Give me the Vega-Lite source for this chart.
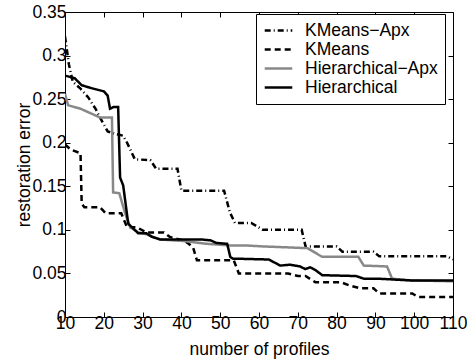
{
  "$schema": "https://vega.github.io/schema/vega-lite/v6.json",
  "width": 388,
  "height": 305,
  "autosize": "none",
  "padding": {"left": 65, "top": 12, "right": 14, "bottom": 43},
  "config": {
    "font": "Liberation Sans",
    "view": {"stroke": "black", "strokeWidth": 1},
    "axis": {"grid": false, "domainColor": "black", "tickColor": "black", "labelColor": "black", "titleColor": "black", "labelFontSize": 17.5, "titleFontSize": 17.5, "titleFontWeight": "normal", "tickSize": -5, "labelPadding": 4, "labelOverlap": false, "labelBound": false, "labelFlush": false},
    "legend": {"orient": "none", "legendX": 191, "legendY": 2, "strokeColor": "black", "fillColor": "white", "padding": 7, "labelFontSize": 17.5, "labelColor": "black", "symbolType": "stroke", "symbolSize": 760, "symbolStrokeWidth": 2.5, "rowPadding": 0, "clipHeight": 19, "labelOffset": 11, "cornerRadius": 0}
  },
  "data": {"values": [
    {"s":"KMeans−Apx","x":10,"y":0.322},{"s":"KMeans−Apx","x":11,"y":0.29},{"s":"KMeans−Apx","x":12,"y":0.27},{"s":"KMeans−Apx","x":14,"y":0.262},{"s":"KMeans−Apx","x":16,"y":0.252},{"s":"KMeans−Apx","x":18,"y":0.238},{"s":"KMeans−Apx","x":19,"y":0.229},{"s":"KMeans−Apx","x":21,"y":0.213},{"s":"KMeans−Apx","x":23,"y":0.21},{"s":"KMeans−Apx","x":25,"y":0.208},{"s":"KMeans−Apx","x":26,"y":0.2},{"s":"KMeans−Apx","x":28,"y":0.181},{"s":"KMeans−Apx","x":32,"y":0.18},{"s":"KMeans−Apx","x":33.5,"y":0.17},{"s":"KMeans−Apx","x":39,"y":0.17},{"s":"KMeans−Apx","x":40,"y":0.145},{"s":"KMeans−Apx","x":51,"y":0.145},{"s":"KMeans−Apx","x":52.5,"y":0.12},{"s":"KMeans−Apx","x":53.8,"y":0.108},{"s":"KMeans−Apx","x":58,"y":0.108},{"s":"KMeans−Apx","x":61,"y":0.1},{"s":"KMeans−Apx","x":71,"y":0.1},{"s":"KMeans−Apx","x":72,"y":0.081},{"s":"KMeans−Apx","x":80,"y":0.081},{"s":"KMeans−Apx","x":81.5,"y":0.075},{"s":"KMeans−Apx","x":89.5,"y":0.075},{"s":"KMeans−Apx","x":91,"y":0.0696},{"s":"KMeans−Apx","x":108.5,"y":0.0696},{"s":"KMeans−Apx","x":110,"y":0.066},
    {"s":"KMeans","x":10,"y":0.198},{"s":"KMeans","x":11.5,"y":0.192},{"s":"KMeans","x":14,"y":0.188},{"s":"KMeans","x":14.3,"y":0.13},{"s":"KMeans","x":15,"y":0.126},{"s":"KMeans","x":19,"y":0.126},{"s":"KMeans","x":20.5,"y":0.119},{"s":"KMeans","x":24.5,"y":0.119},{"s":"KMeans","x":26,"y":0.103},{"s":"KMeans","x":28.5,"y":0.103},{"s":"KMeans","x":31,"y":0.097},{"s":"KMeans","x":35.5,"y":0.097},{"s":"KMeans","x":37,"y":0.092},{"s":"KMeans","x":41,"y":0.087},{"s":"KMeans","x":43,"y":0.08},{"s":"KMeans","x":44,"y":0.065},{"s":"KMeans","x":53.5,"y":0.065},{"s":"KMeans","x":54.8,"y":0.05},{"s":"KMeans","x":67.5,"y":0.05},{"s":"KMeans","x":70,"y":0.047},{"s":"KMeans","x":72,"y":0.047},{"s":"KMeans","x":74.5,"y":0.04},{"s":"KMeans","x":81,"y":0.04},{"s":"KMeans","x":83.5,"y":0.036},{"s":"KMeans","x":86,"y":0.033},{"s":"KMeans","x":89.5,"y":0.033},{"s":"KMeans","x":91,"y":0.027},{"s":"KMeans","x":99.5,"y":0.027},{"s":"KMeans","x":101,"y":0.023},{"s":"KMeans","x":110,"y":0.023},
    {"s":"Hierarchical−Apx","x":10,"y":0.256},{"s":"Hierarchical−Apx","x":10.8,"y":0.243},{"s":"Hierarchical−Apx","x":14,"y":0.239},{"s":"Hierarchical−Apx","x":17,"y":0.233},{"s":"Hierarchical−Apx","x":19,"y":0.229},{"s":"Hierarchical−Apx","x":22.1,"y":0.229},{"s":"Hierarchical−Apx","x":22.4,"y":0.143},{"s":"Hierarchical−Apx","x":24,"y":0.142},{"s":"Hierarchical−Apx","x":25.5,"y":0.119},{"s":"Hierarchical−Apx","x":26.8,"y":0.103},{"s":"Hierarchical−Apx","x":29,"y":0.097},{"s":"Hierarchical−Apx","x":31,"y":0.095},{"s":"Hierarchical−Apx","x":34.5,"y":0.089},{"s":"Hierarchical−Apx","x":41,"y":0.087},{"s":"Hierarchical−Apx","x":46.5,"y":0.084},{"s":"Hierarchical−Apx","x":53,"y":0.082},{"s":"Hierarchical−Apx","x":57,"y":0.082},{"s":"Hierarchical−Apx","x":61,"y":0.081},{"s":"Hierarchical−Apx","x":72.5,"y":0.079},{"s":"Hierarchical−Apx","x":74,"y":0.075},{"s":"Hierarchical−Apx","x":76.3,"y":0.069},{"s":"Hierarchical−Apx","x":85.6,"y":0.069},{"s":"Hierarchical−Apx","x":87,"y":0.059},{"s":"Hierarchical−Apx","x":93,"y":0.058},{"s":"Hierarchical−Apx","x":94.3,"y":0.044},{"s":"Hierarchical−Apx","x":99,"y":0.042},{"s":"Hierarchical−Apx","x":110,"y":0.041},
    {"s":"Hierarchical","x":10,"y":0.277},{"s":"Hierarchical","x":12.5,"y":0.274},{"s":"Hierarchical","x":14.3,"y":0.266},{"s":"Hierarchical","x":16.5,"y":0.263},{"s":"Hierarchical","x":20,"y":0.259},{"s":"Hierarchical","x":21,"y":0.254},{"s":"Hierarchical","x":21.6,"y":0.239},{"s":"Hierarchical","x":22.5,"y":0.241},{"s":"Hierarchical","x":23.7,"y":0.241},{"s":"Hierarchical","x":24.2,"y":0.16},{"s":"Hierarchical","x":25,"y":0.151},{"s":"Hierarchical","x":26.3,"y":0.107},{"s":"Hierarchical","x":28.9,"y":0.096},{"s":"Hierarchical","x":31,"y":0.096},{"s":"Hierarchical","x":32.4,"y":0.092},{"s":"Hierarchical","x":34.5,"y":0.089},{"s":"Hierarchical","x":45,"y":0.089},{"s":"Hierarchical","x":47.5,"y":0.088},{"s":"Hierarchical","x":49,"y":0.085},{"s":"Hierarchical","x":51.8,"y":0.084},{"s":"Hierarchical","x":52.6,"y":0.069},{"s":"Hierarchical","x":53.2,"y":0.067},{"s":"Hierarchical","x":62.5,"y":0.066},{"s":"Hierarchical","x":65.5,"y":0.059},{"s":"Hierarchical","x":68,"y":0.06},{"s":"Hierarchical","x":70.6,"y":0.058},{"s":"Hierarchical","x":71.9,"y":0.055},{"s":"Hierarchical","x":73.2,"y":0.057},{"s":"Hierarchical","x":74.5,"y":0.054},{"s":"Hierarchical","x":76.3,"y":0.048},{"s":"Hierarchical","x":85,"y":0.047},{"s":"Hierarchical","x":87,"y":0.044},{"s":"Hierarchical","x":90.5,"y":0.044},{"s":"Hierarchical","x":99,"y":0.042},{"s":"Hierarchical","x":110,"y":0.042}
  ]},
  "layer": [
    {
      "mark": {"type": "line", "strokeWidth": 2.5, "clip": true},
      "encoding": {
        "x": {"field": "x", "type": "quantitative", "scale": {"domain": [10, 110], "nice": false}, "axis": {"orient": "bottom", "title": "number of profiles", "values": [10,20,30,40,50,60,70,80,90,100,110], "labelPadding": 2, "titlePadding": 9}},
        "y": {"field": "y", "type": "quantitative", "scale": {"domain": [0, 0.35], "nice": false}, "axis": {"orient": "left", "title": "restoration error", "values": [0,0.05,0.1,0.15,0.2,0.25,0.3,0.35], "format": "~g", "titlePadding": -2}},
        "color": {"field": "s", "type": "nominal", "title": null, "sort": ["KMeans−Apx","KMeans","Hierarchical−Apx","Hierarchical"], "scale": {"domain": ["KMeans−Apx","KMeans","Hierarchical−Apx","Hierarchical"], "range": ["black","black","#888888","black"]}},
        "strokeDash": {"field": "s", "type": "nominal", "title": null, "sort": ["KMeans−Apx","KMeans","Hierarchical−Apx","Hierarchical"], "scale": {"domain": ["KMeans−Apx","KMeans","Hierarchical−Apx","Hierarchical"], "range": [[6,3,1,3],[6,4],[1,0],[1,0]]}}
      }
    },
    {
      "mark": {"type": "line", "opacity": 0},
      "encoding": {
        "x": {"field": "x", "type": "quantitative", "axis": {"orient": "top", "title": null, "labels": false, "domain": false, "values": [10,20,30,40,50,60,70,80,90,100,110]}},
        "y": {"field": "y", "type": "quantitative", "axis": {"orient": "right", "title": null, "labels": false, "domain": false, "values": [0,0.05,0.1,0.15,0.2,0.25,0.3,0.35]}}
      }
    }
  ],
  "resolve": {"axis": {"x": "independent", "y": "independent"}}
}
